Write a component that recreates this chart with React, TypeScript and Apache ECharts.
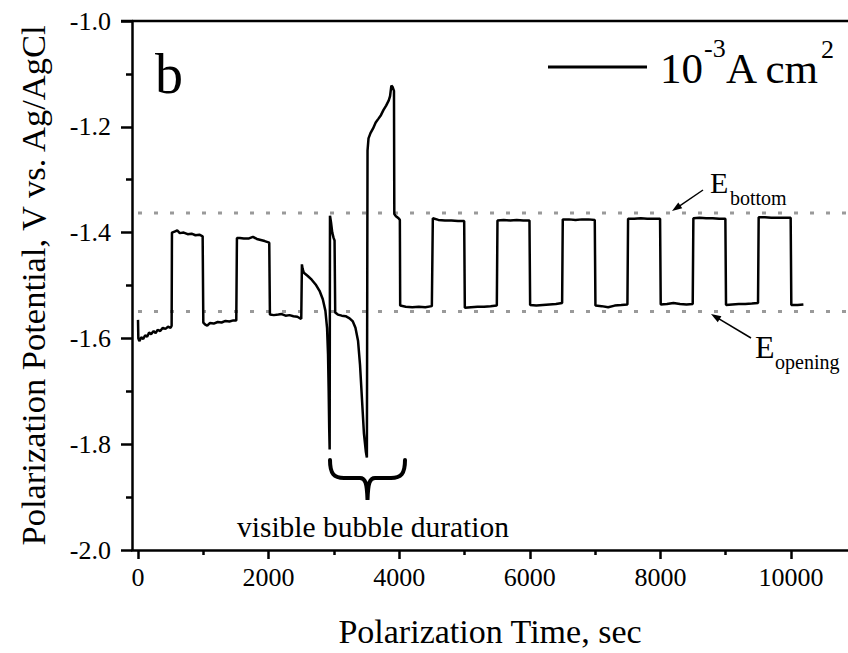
import React, { useEffect, useRef } from "react";
import * as echarts from "echarts";

// ---- data (time in s, potential in V vs Ag/AgCl) ----
const xLabelValues = [0, 2000, 4000, 6000, 8000, 10000];
const xMinorTickValues = [1000, 3000, 5000, 7000, 9000];
const eBottomLevel = -1.363;
const eOpeningLevel = -1.549;
const xAxisMin = -92;
const xAxisMax = 10873;

const initialSteps: [number, number][] = [
  [0, -1.565], [5, -1.6], [20, -1.605], [50, -1.598], [80, -1.601], [110, -1.594],
  [140, -1.597], [170, -1.589], [200, -1.592], [240, -1.586], [270, -1.59], [300, -1.584],
  [340, -1.586], [380, -1.58], [420, -1.582], [460, -1.578], [500, -1.58], [515, -1.576],
  [520, -1.4], [560, -1.398], [600, -1.396], [640, -1.401], [700, -1.4], [760, -1.403],
  [820, -1.402], [880, -1.405], [940, -1.404], [990, -1.407],
  [1000, -1.57], [1030, -1.574], [1060, -1.576], [1100, -1.571], [1160, -1.572], [1220, -1.569],
  [1280, -1.57], [1340, -1.567], [1400, -1.568], [1460, -1.566], [1505, -1.566],
  [1515, -1.41], [1560, -1.41], [1620, -1.411], [1700, -1.411], [1760, -1.408], [1820, -1.412],
  [1880, -1.414], [1940, -1.416], [2010, -1.419],
  [2020, -1.555], [2080, -1.556], [2150, -1.555], [2200, -1.554], [2260, -1.557], [2320, -1.556],
  [2380, -1.558], [2440, -1.559], [2480, -1.562], [2500, -1.563],
];

const bubbleEvents: [number, number][] = [
  [2510, -1.46], [2520, -1.468], [2540, -1.476], [2600, -1.482], [2660, -1.489], [2720, -1.498],
  [2780, -1.51], [2830, -1.526], [2870, -1.548], [2895, -1.58], [2910, -1.63], [2920, -1.7],
  [2928, -1.77], [2935, -1.81],
  [2940, -1.368], [2955, -1.38], [2975, -1.4], [2995, -1.41], [3010, -1.415],
  [3020, -1.551], [3060, -1.555], [3120, -1.557], [3180, -1.558], [3240, -1.562], [3290, -1.568],
  [3330, -1.58], [3370, -1.605], [3400, -1.65], [3430, -1.715], [3460, -1.78], [3490, -1.815],
  [3505, -1.825],
  [3515, -1.245], [3530, -1.222], [3560, -1.212], [3600, -1.203], [3640, -1.192], [3680, -1.185],
  [3720, -1.178], [3760, -1.168], [3800, -1.16], [3840, -1.15], [3860, -1.142], [3880, -1.122],
  [3900, -1.125], [3920, -1.132],
  [3925, -1.365], [3950, -1.369], [3990, -1.373], [4010, -1.376],
];

const cyclingSteps: [number, number][] = [
  [4015, -1.538], [4100, -1.54], [4200, -1.541], [4300, -1.54], [4400, -1.541], [4500, -1.539],
  [4515, -1.373], [4600, -1.376], [4700, -1.377], [4800, -1.377], [4900, -1.378], [4995, -1.378],
  [5005, -1.542], [5100, -1.541], [5200, -1.54], [5300, -1.54], [5400, -1.539], [5495, -1.538],
  [5505, -1.377], [5600, -1.376], [5700, -1.377], [5800, -1.376], [5900, -1.377], [5995, -1.377],
  [6005, -1.537], [6100, -1.538], [6200, -1.537], [6300, -1.536], [6400, -1.535], [6495, -1.533],
  [6505, -1.375], [6600, -1.375], [6700, -1.376], [6800, -1.375], [6900, -1.375], [6995, -1.376],
  [7005, -1.538], [7100, -1.539], [7200, -1.541], [7300, -1.538], [7400, -1.537], [7495, -1.536],
  [7505, -1.374], [7600, -1.374], [7700, -1.373], [7800, -1.374], [7900, -1.374], [7995, -1.374],
  [8005, -1.536], [8100, -1.535], [8200, -1.533], [8300, -1.535], [8400, -1.536], [8495, -1.535],
  [8505, -1.373], [8600, -1.372], [8700, -1.373], [8800, -1.373], [8900, -1.374], [8995, -1.374],
  [9005, -1.537], [9100, -1.536], [9200, -1.535], [9300, -1.535], [9400, -1.534], [9495, -1.533],
  [9505, -1.371], [9600, -1.371], [9700, -1.372], [9800, -1.372], [9900, -1.372], [9995, -1.372],
  [10005, -1.537], [10100, -1.537], [10190, -1.536],
];

const FONT = "Liberation Serif";

echarts.graphic.registerShape(
  "brace",
  echarts.graphic.extendPath(
    "M0,0 C0,14 4,18 14,18 L30,18 C35,18 37,22 37.5,40 C38,22 40,18 45,18 L61,18 C71,18 75,14 75,0",
    {}
  )
);

function arrow(x1: number, y1: number, x2: number, y2: number) {
  const dx = x2 - x1;
  const dy = y2 - y1;
  const len = Math.sqrt(dx * dx + dy * dy);
  const ux = dx / len;
  const uy = dy / len;
  const nx = -uy;
  const ny = ux;
  const hl = 10;
  const hw = 3.5;
  return [
    {
      type: "line",
      shape: { x1, y1, x2: x2 - ux * 4, y2: y2 - uy * 4 },
      style: { stroke: "#000", lineWidth: 1.5 },
    },
    {
      type: "polygon",
      shape: {
        points: [
          [x2, y2],
          [x2 - ux * hl + nx * hw, y2 - uy * hl + ny * hw],
          [x2 - ux * hl - nx * hw, y2 - uy * hl - ny * hw],
        ],
      },
      style: { fill: "#000" },
    },
  ];
}

function txt(text: string, x: number, y: number, fontSize: number, align = "left") {
  return {
    type: "text",
    x,
    y,
    style: { text, fontSize, fontFamily: FONT, fill: "#000", align, verticalAlign: "middle" },
  };
}

export default function App() {
  const ref = useRef<HTMLDivElement>(null);
  useEffect(() => {
    if (!ref.current) return;
    const chart = echarts.init(ref.current, null, { renderer: "svg" });
    const curve = [...initialSteps, ...bubbleEvents, ...cyclingSteps];
    const axisLineStyle = { color: "#000", width: 2.5 };
    chart.setOption({
      animation: false,
      backgroundColor: "#fff",
      textStyle: { fontFamily: FONT },
      grid: { left: 132, right: 0, top: 21, bottom: 101, containLabel: false },
      xAxis: [
        {
          type: "value",
          min: xAxisMin,
          max: xAxisMax,
          position: "bottom",
          axisLine: { show: true, onZero: false, lineStyle: axisLineStyle },
          axisTick: {
            show: true,
            inside: false,
            length: 9,
            lineStyle: { color: "#000", width: 2.5 },
            customValues: xLabelValues,
          },
          axisLabel: {
            customValues: xLabelValues,
            formatter: (v: number) => String(v),
            fontSize: 26,
            fontFamily: FONT,
            color: "#000",
            margin: 14,
          },
          splitLine: { show: false },
          name: "Polarization Time, sec",
          nameLocation: "middle",
          nameGap: 64,
          nameTextStyle: { fontSize: 34, fontFamily: FONT, color: "#000" },
        },
        {
          type: "value",
          min: xAxisMin,
          max: xAxisMax,
          position: "bottom",
          axisLine: { show: false, onZero: false },
          axisTick: {
            show: true,
            inside: false,
            length: 5,
            lineStyle: { color: "#000", width: 2.5 },
            customValues: xMinorTickValues,
          },
          axisLabel: { show: false },
          splitLine: { show: false },
        },
      ],
      yAxis: {
        type: "value",
        min: -2.0,
        max: -1.0,
        interval: 0.2,
        axisLine: { show: true, onZero: false, lineStyle: axisLineStyle },
        axisTick: { show: true, inside: false, length: 11, lineStyle: { color: "#000", width: 2.5 } },
        minorTick: { show: true, splitNumber: 2, length: 6, lineStyle: { color: "#000", width: 2.5 } },
        axisLabel: {
          formatter: (v: number) => v.toFixed(1),
          fontSize: 26,
          fontFamily: FONT,
          color: "#000",
          margin: 21,
        },
        splitLine: { show: false },
        minorSplitLine: { show: false },
        name: "Polarization Potential, V vs. Ag/AgCl",
        nameLocation: "middle",
        nameGap: 82,
        nameTextStyle: { fontSize: 34.5, fontFamily: FONT, color: "#000" },
      },
      series: [
        {
          type: "line",
          name: "E_bottom",
          data: [[0, eBottomLevel], [xAxisMax, eBottomLevel]],
          showSymbol: false,
          silent: true,
          lineStyle: { color: "#9a9a9a", width: 3, type: [4, 12] },
          z: 1,
        },
        {
          type: "line",
          name: "E_opening",
          data: [[0, eOpeningLevel], [xAxisMax, eOpeningLevel]],
          showSymbol: false,
          silent: true,
          lineStyle: { color: "#9a9a9a", width: 3, type: [4, 12] },
          z: 1,
        },
        {
          type: "line",
          name: "10^-3 A cm^2",
          data: curve,
          showSymbol: false,
          lineStyle: { color: "#000", width: 2.5 },
          z: 3,
        },
      ],
      graphic: [
        { type: "line", shape: { x1: 121, y1: 21, x2: 848, y2: 21 }, style: { stroke: "#000", lineWidth: 2.5 } },
        txt("b", 155, 74, 56),
        { type: "line", shape: { x1: 548, y1: 67, x2: 647, y2: 67 }, style: { stroke: "#000", lineWidth: 3 } },
        txt("10", 660, 68, 43),
        txt("-3", 704, 48, 26),
        txt("A cm", 726, 68, 43),
        txt("2", 821, 49, 26),
        txt("E", 710, 182, 30),
        txt("bottom", 730, 198, 20),
        ...arrow(703, 190, 672, 211),
        txt("E", 755, 347, 32),
        txt("opening", 775, 362, 20),
        ...arrow(751, 338, 711, 314),
        txt("visible bubble duration", 237, 527, 29.5),
        {
          type: "brace",
          x: 330,
          y: 460,
          style: { stroke: "#000", fill: null, lineWidth: 4, lineCap: "round" },
        },
      ],
    });
    return () => chart.dispose();
  }, []);
  return (
    <div
      ref={ref}
      style={{ position: "fixed", left: 0, top: 0, width: 848, height: 653, background: "#fff" }}
    />
  );
}
